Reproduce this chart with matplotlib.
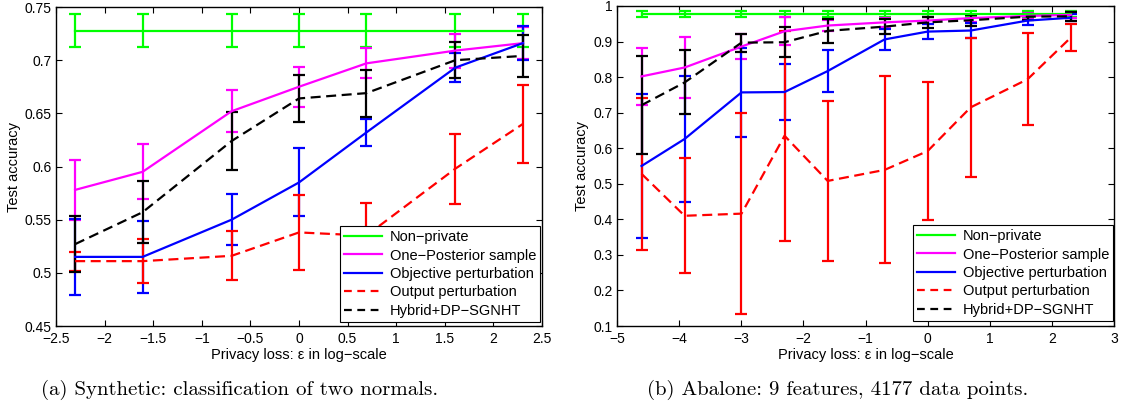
import matplotlib
matplotlib.use('Agg')
import matplotlib.pyplot as plt
from matplotlib.lines import Line2D

plt.rcParams['font.family'] = ['Liberation Sans', 'DejaVu Sans']

# series names and colours
names = ['Non\u2212private', 'One\u2212Posterior sample', 'Objective perturbation',
         'Output perturbation', 'Hybrid+DP\u2212SGNHT']
colors = ['#00ff00', '#ff00ff', '#0000ff', '#ff0000', '#000000']
styles = ['-', '-', '-', '--', '--']

# (a) synthetic data
eps_a = [-2.303, -1.609, -0.693, 0.0, 0.693, 1.609, 2.303]
nonpriv_a = [0.7275] * 7
nonpriv_a_err = [0.0155] * 7
onepost_a = [0.578, 0.595, 0.652, 0.675, 0.697, 0.709, 0.716]
onepost_a_err = [0.028, 0.026, 0.020, 0.019, 0.014, 0.016, 0.015]
objpert_a = [0.515, 0.515, 0.550, 0.585, 0.632, 0.693, 0.716]
objpert_a_err = [0.036, 0.034, 0.024, 0.032, 0.013, 0.014, 0.016]
outpert_a = [0.511, 0.511, 0.516, 0.538, 0.535, 0.598, 0.640]
outpert_a_err = [0.009, 0.021, 0.023, 0.035, 0.031, 0.033, 0.037]
hybrid_a = [0.527, 0.557, 0.624, 0.664, 0.669, 0.700, 0.704]
hybrid_a_err = [0.026, 0.029, 0.027, 0.022, 0.022, 0.017, 0.020]

# (b) abalone data
eps_b = [-4.605, -3.912, -2.996, -2.303, -1.609, -0.693, 0.0, 0.693, 1.609, 2.303]
nonpriv_b = [0.977] * 10
nonpriv_b_err = [0.008] * 10
onepost_b = [0.802, 0.827, 0.886, 0.929, 0.945, 0.954, 0.959, 0.966, 0.972, 0.975]
onepost_b_err = [0.080, 0.087, 0.035, 0.040, 0.015, 0.012, 0.010, 0.010, 0.008, 0.008]
objpert_b = [0.550, 0.626, 0.757, 0.758, 0.817, 0.906, 0.928, 0.931, 0.959, 0.967]
objpert_b_err = [0.203, 0.176, 0.126, 0.080, 0.060, 0.030, 0.020, 0.020, 0.013, 0.010]
outpert_b = [0.528, 0.410, 0.416, 0.635, 0.508, 0.539, 0.592, 0.715, 0.794, 0.911]
outpert_b_err = [0.213, 0.162, 0.282, 0.295, 0.224, 0.263, 0.195, 0.195, 0.130, 0.038]
hybrid_b = [0.721, 0.785, 0.897, 0.898, 0.930, 0.942, 0.954, 0.960, 0.970, 0.971]
hybrid_b_err = [0.138, 0.090, 0.025, 0.042, 0.033, 0.022, 0.015, 0.015, 0.008, 0.012]

series_a = [(nonpriv_a, nonpriv_a_err), (onepost_a, onepost_a_err), (objpert_a, objpert_a_err),
            (outpert_a, outpert_a_err), (hybrid_a, hybrid_a_err)]
series_b = [(nonpriv_b, nonpriv_b_err), (onepost_b, onepost_b_err), (objpert_b, objpert_b_err),
            (outpert_b, outpert_b_err), (hybrid_b, hybrid_b_err)]

xticks_a = [-2.5, -2, -1.5, -1, -0.5, 0, 0.5, 1, 1.5, 2, 2.5]
xlabels_a = ['\u22122.5', '\u22122', '\u22121.5', '\u22121', '\u22120.5', '0', '0.5', '1', '1.5', '2', '2.5']
yticks_a = [0.45, 0.5, 0.55, 0.6, 0.65, 0.7, 0.75]
ylabels_a = ['0.45', '0.5', '0.55', '0.6', '0.65', '0.7', '0.75']
xticks_b = [-5, -4, -3, -2, -1, 0, 1, 2, 3]
xlabels_b = ['\u22125', '\u22124', '\u22123', '\u22122', '\u22121', '0', '1', '2', '3']
yticks_b = [0.1, 0.2, 0.3, 0.4, 0.5, 0.6, 0.7, 0.8, 0.9, 1.0]
ylabels_b = ['0.1', '0.2', '0.3', '0.4', '0.5', '0.6', '0.7', '0.8', '0.9', '1']

fig = plt.figure(figsize=(11.21, 4.11), dpi=100)
ax1 = fig.add_axes([56 / 1121, 1 - 326 / 411, 486 / 1121, 319 / 411])
ax2 = fig.add_axes([617 / 1121, 1 - 326 / 411, 497 / 1121, 320 / 411])


def draw_panel(ax, x, series, xticks, xlabels, yticks, ylabels, xlim, ylim, legpos):
    for (vals, errs), c, ls in zip(series, colors, styles):
        eb = ax.errorbar(x, vals, yerr=errs, color=c, linestyle=ls, linewidth=1.6,
                         elinewidth=1.6, capsize=4, capthick=1.6)
        if ls == '--':
            eb.lines[0].set_dashes((4.5, 2.5))
    ax.set_xlim(xlim)
    ax.set_ylim(ylim)
    ax.set_xticks(xticks)
    ax.set_xticklabels(xlabels)
    ax.set_yticks(yticks)
    ax.set_yticklabels(ylabels)
    ax.tick_params(direction='in', length=4, width=0.8, top=True, right=True,
                   labelsize=10)
    ax.tick_params(axis='x', pad=4)
    ax.tick_params(axis='y', pad=3)
    for sp in ax.spines.values():
        sp.set_linewidth(1.0)
    ax.set_xlabel('Privacy loss: \u03b5 in log\u2212scale', fontsize=10.5, labelpad=2)
    ax.set_ylabel('Test accuracy', fontsize=10.5, labelpad=3)
    handles = []
    for c, ls in zip(colors, styles):
        h = Line2D([0], [0], color=c, linestyle=ls, linewidth=1.6)
        if ls == '--':
            h.set_dashes((3.5, 2.5))
        handles.append(h)
    leg = ax.legend(handles, names, loc='lower left', bbox_to_anchor=legpos,
                    fontsize=10.5, frameon=True, fancybox=False, framealpha=1,
                    edgecolor='black', handlelength=2.6, handletextpad=0.5,
                    labelspacing=0.3, borderpad=0.3, borderaxespad=0)
    leg.get_frame().set_linewidth(0.8)


draw_panel(ax1, eps_a, series_a, xticks_a, xlabels_a, yticks_a, ylabels_a,
           (-2.5, 2.5), (0.45, 0.75), (284 / 486, 4 / 319))
draw_panel(ax2, eps_b, series_b, xticks_b, xlabels_b, yticks_b, ylabels_b,
           (-5, 3), (0.1, 1.0), (296 / 497, 5 / 320))

fig.text(240 / 1121, 1 - 390 / 411, '(a) Synthetic: classification of two normals.',
         family='cmr10', fontsize=15, ha='center', va='center')
fig.text(838 / 1121, 1 - 390 / 411, '(b) Abalone: 9 features, 4177 data points.',
         family='cmr10', fontsize=15, ha='center', va='center')

fig.savefig('out.png', dpi=100)
